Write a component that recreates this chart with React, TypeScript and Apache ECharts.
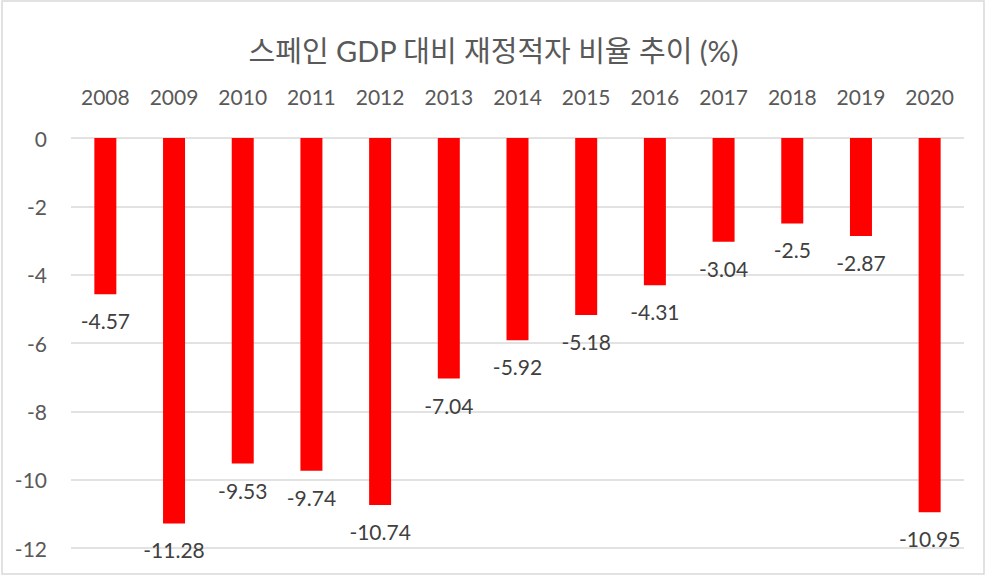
import React, { useEffect, useRef } from "react";
import * as echarts from "echarts";

const categories = ["2008", "2009", "2010", "2011", "2012", "2013", "2014", "2015", "2016", "2017", "2018", "2019", "2020"];
const deficitValues = [-4.57, -11.28, -9.53, -9.74, -10.74, -7.04, -5.92, -5.18, -4.31, -3.04, -2.5, -2.87, -10.95];
const titleText = "스페인 GDP 대비 재정적자 비율 추이 (%)";

const FONT = "Lato, 'Noto Sans CJK KR', sans-serif";

export default function App() {
  const ref = useRef<HTMLDivElement>(null);
  useEffect(() => {
    if (!ref.current) return;
    const chart = echarts.init(ref.current, null, { renderer: "svg" });
    chart.setOption({
      animation: false,
      backgroundColor: "#ffffff",
      title: {
        text: titleText,
        left: "center",
        top: 31,
        textStyle: { fontFamily: FONT, fontSize: 29, fontWeight: "normal", color: "#595959" },
      },
      graphic: [
        {
          type: "rect",
          shape: { x: 2, y: 1, width: 982, height: 573 },
          style: { fill: "none", stroke: "#d9d9d9", lineWidth: 1.5 },
          silent: true,
        },
      ],
      grid: { left: 71, right: 23, top: 138, bottom: 27, containLabel: false },
      xAxis: {
        type: "category",
        position: "top",
        data: categories,
        axisLine: { show: false },
        axisTick: { show: false },
        axisLabel: { fontFamily: FONT, fontSize: 21, color: "#595959", margin: 31 },
      },
      yAxis: {
        type: "value",
        min: -12,
        max: 0,
        interval: 2,
        axisLine: { show: false },
        axisTick: { show: false },
        splitLine: { lineStyle: { color: "#d9d9d9", width: 1.5 } },
        axisLabel: { fontFamily: FONT, fontSize: 21, color: "#595959", margin: 24 },
      },
      series: [
        {
          type: "bar",
          data: deficitValues,
          barWidth: 22,
          itemStyle: { color: "#ff0000" },
          label: {
            show: true,
            position: "bottom",
            distance: 16,
            fontFamily: FONT,
            fontSize: 21,
            color: "#404040",
          },
        },
      ],
    });
    return () => chart.dispose();
  }, []);
  return <div ref={ref} style={{ position: "fixed", left: 0, top: 0, width: 987, height: 575 }} />;
}
